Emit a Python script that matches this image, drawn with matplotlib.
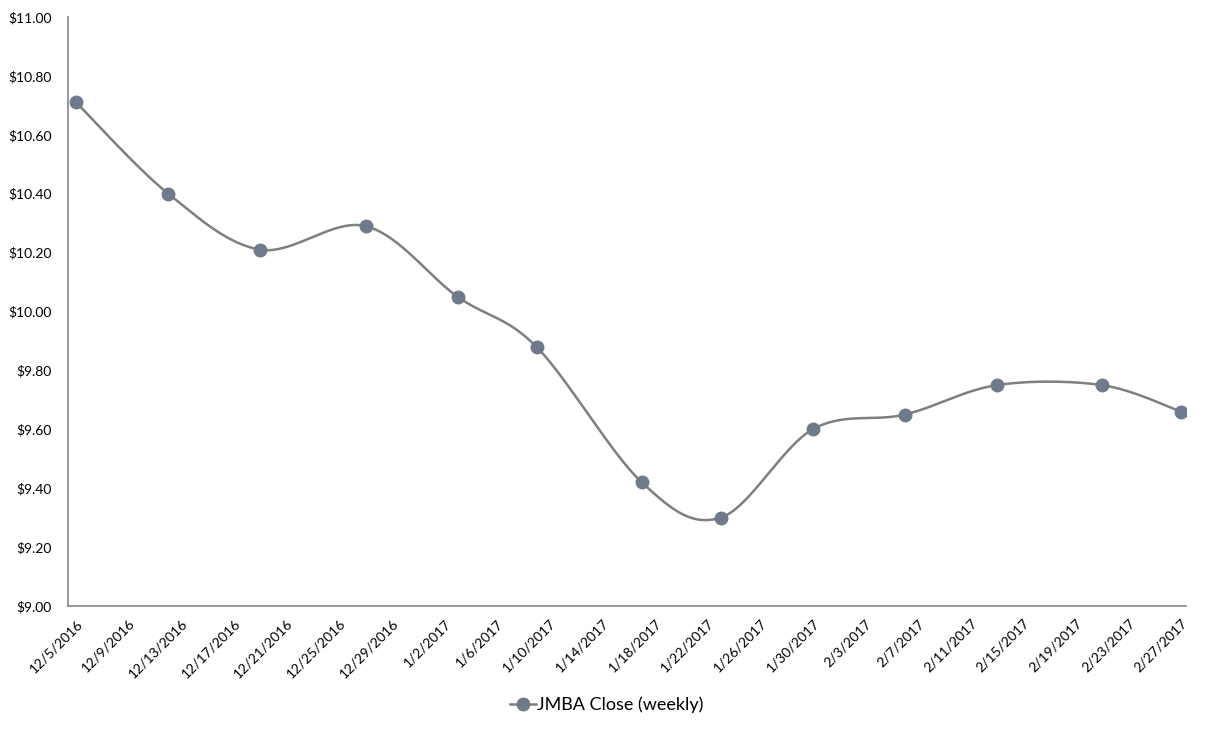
import matplotlib
matplotlib.use('Agg')
import matplotlib.pyplot as plt
import matplotlib.dates as mdates
from matplotlib.ticker import FuncFormatter
import numpy as np
import datetime as dt

plt.rcParams['font.family'] = ['Lato', 'DejaVu Sans']

dates = ['2016-12-05', '2016-12-12', '2016-12-19', '2016-12-27', '2017-01-03',
         '2017-01-09', '2017-01-17', '2017-01-23', '2017-01-30', '2017-02-06',
         '2017-02-13', '2017-02-21', '2017-02-27']
close = [10.71, 10.40, 10.21, 10.29, 10.05, 9.88, 9.42, 9.30, 9.60, 9.65,
         9.75, 9.75, 9.66]
series_label = 'JMBA Close (weekly)'

x = mdates.date2num([dt.datetime.strptime(d, '%Y-%m-%d') for d in dates])
y = np.array(close)


def smooth(xs, ys, n=40):
    # excel-ish smoothed line: bezier with catmull-rom style control points
    px, py = [], []
    m = len(xs)
    for i in range(m - 1):
        x0, y0 = (xs[i - 1], ys[i - 1]) if i > 0 else (xs[i], ys[i])
        x1, y1 = xs[i], ys[i]
        x2, y2 = xs[i + 1], ys[i + 1]
        x3, y3 = (xs[i + 2], ys[i + 2]) if i + 2 < m else (x2, y2)
        c1x, c1y = x1 + (x2 - x0) / 6, y1 + (y2 - y0) / 6
        c2x, c2y = x2 - (x3 - x1) / 6, y2 - (y3 - y1) / 6
        t = np.linspace(0, 1, n)
        a, b, c, d = (1 - t) ** 3, 3 * (1 - t) ** 2 * t, 3 * (1 - t) * t ** 2, t ** 3
        px.extend(a * x1 + b * c1x + c * c2x + d * x2)
        py.extend(a * y1 + b * c1y + c * c2y + d * y2)
    return np.array(px), np.array(py)


fig = plt.figure(figsize=(12.08, 7.31), dpi=100)
ax = fig.add_axes([68 / 1208, 1 - 606 / 731, (1186 - 68) / 1208, (606 - 17) / 731])

sx, sy = smooth(x, y)
ax.plot(sx, sy, color='#7f7f7f', lw=1.8, zorder=2)
ax.plot(x, y, ls='none', marker='o', ms=9, color='#6f7a8a', mec='#6f7a8a', zorder=3)

# legend handle
ax.plot([], [], color='#7f7f7f', lw=1.8, marker='o', ms=9,
        mfc='#6f7a8a', mec='#6f7a8a', label=series_label)

ax.set_xlim(x[0] - 0.62, x[-1] + 0.38)
ax.set_ylim(9.0, 11.0)
ax.set_yticks(np.arange(9.0, 11.01, 0.2))
ax.yaxis.set_major_formatter(FuncFormatter(lambda v, p: '${:.2f}'.format(v)))

ticks = np.arange(x[0], x[-1] + 0.1, 4)
ax.set_xticks(ticks)
ax.set_xticklabels([f'{d.month}/{d.day}/{d.year}' for d in mdates.num2date(ticks)],
                   rotation=45, ha='right', rotation_mode='anchor', fontsize=10)
ax.tick_params(axis='both', length=0, labelsize=10, colors='black')
ax.tick_params(axis='x', pad=8)
ax.tick_params(axis='y', pad=12)

for s in ['top', 'right']:
    ax.spines[s].set_visible(False)
for s in ['left', 'bottom']:
    ax.spines[s].set_color('#868686')
    ax.spines[s].set_linewidth(1.2)

fig.legend(loc='center', bbox_to_anchor=(607 / 1208, 1 - 705 / 731), frameon=False,
           fontsize=13, handlelength=1.4, handletextpad=0.1)

fig.savefig('out.png', dpi=100)
